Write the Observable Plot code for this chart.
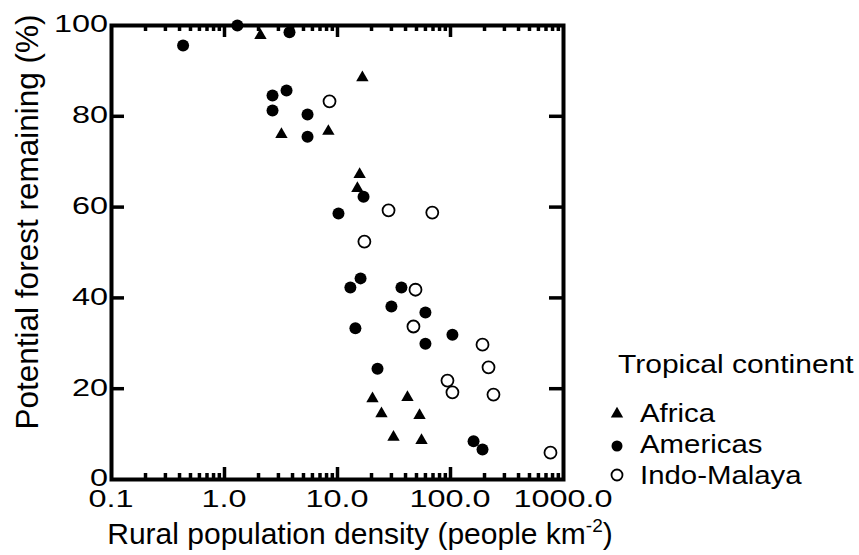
<!DOCTYPE html>
<html><head><meta charset="utf-8">
<script src="https://cdn.jsdelivr.net/npm/d3@7"></script>
<script src="https://cdn.jsdelivr.net/npm/@observablehq/plot@0.6"></script>
<style>
body{margin:0;background:#fff;}
#chart{width:859px;height:555px;}
svg text{font-family:"Liberation Sans",Arial,Helvetica,sans-serif;}
</style></head><body><div id="chart"></div>
<script>
// ---- data ----
const continents = ["Africa", "Americas", "Indo-Malaya"];
const africaDensity   = [2.08, 16.6, 3.19, 8.3, 15.7, 15.0, 20.4, 41.6, 24.5, 53.2, 31.3, 55.4];
const africaForest    = [97.8, 88.5, 76.0, 76.7, 67.2, 64.1, 17.8, 18.1, 14.5, 14.1, 9.3, 8.6];
const americasDensity = [0.43, 1.30, 3.76, 2.66, 3.54, 2.66, 5.43, 5.43, 17.0, 10.2, 16.0, 13.0, 36.8, 30.0, 60, 14.4, 60, 22.6, 104, 160, 192];
const americasForest  = [95.6, 100, 98.5, 84.6, 85.7, 81.3, 80.4, 75.5, 62.3, 58.6, 44.3, 42.3, 42.3, 38.1, 36.8, 33.3, 29.9, 24.4, 31.9, 8.4, 6.6];
const indoDensity     = [8.5, 28.3, 69, 17.3, 49.0, 47, 192, 217, 94, 104, 240, 767];
const indoForest      = [83.3, 59.3, 58.8, 52.4, 41.8, 33.7, 29.7, 24.7, 21.8, 19.2, 18.7, 5.9];
const xTickValues = [0.1, 1, 10, 100, 1000];
const xTickLabels = ["0.1", "1.0", "10.0", "100.0", "1000.0"];
const yTickValues = [0, 20, 40, 60, 80, 100];
const xTitle = "Rural population density (people km";
const xTitleSup = "-2";
const yTitle = "Potential forest remaining (%)";
const legendTitle = "Tropical continent";

// ---- build tables ----
const toRows = (xs, ys, c) => xs.map((x, i) => ({density: x, forest: ys[i], continent: c}));
const africa = toRows(africaDensity, africaForest, continents[0]);
const americas = toRows(americasDensity, americasForest, continents[1]);
const indo = toRows(indoDensity, indoForest, continents[2]);
const majorInner = xTickValues.slice(1, -1);
const minorTicks = [];
for (let k = 0; k < xTickValues.length - 1; k++) for (let m = 2; m <= 9; m++) minorTicks.push(+(xTickValues[k] * m).toPrecision(3));
const yInnerTicks = yTickValues.slice(1, -1);

// ---- layout ----
const W = 859, H = 555, mL = 111, mR = 296, mT = 25, mB = 76;
const innerH = H - mT - mB, innerW = W - mL - mR;

const svg = Plot.plot({
  width: W, height: H,
  marginLeft: mL, marginRight: mR, marginTop: mT, marginBottom: mB,
  style: {background: "white", fontFamily: "Liberation Sans, Arial, sans-serif", overflow: "visible"},
  x: {type: "log", domain: [0.1, 1000], axis: null},
  y: {domain: [0, 100], axis: null},
  marks: [
    Plot.ruleX(majorInner, {x: d => d, insetTop: innerH - 12, strokeWidth: 3.5, stroke: "black"}),
    Plot.ruleX(minorTicks, {x: d => d, insetTop: innerH - 6, strokeWidth: 3.5, stroke: "black"}),
    Plot.ruleX(majorInner, {x: d => d, insetBottom: innerH - 12, strokeWidth: 3.5, stroke: "black"}),
    Plot.ruleX(minorTicks, {x: d => d, insetBottom: innerH - 6, strokeWidth: 3.5, stroke: "black"}),
    Plot.ruleY(yInnerTicks, {y: d => d, insetRight: innerW - 13, strokeWidth: 3.5, stroke: "black"}),
    Plot.ruleY(yInnerTicks, {y: d => d, insetLeft: innerW - 14, strokeWidth: 3.5, stroke: "black"}),
    Plot.frame({stroke: "black", strokeWidth: 4}),
    Plot.dot(indo, {x: "density", y: "forest", r: 6, stroke: "black", strokeWidth: 1.8, fill: "none"}),
    Plot.dot(americas, {x: "density", y: "forest", r: 6, fill: "black", stroke: "none"}),
    Plot.dot(africa, {x: "density", y: "forest", r: 4.6, symbol: "triangle", fill: "black", stroke: "none"})
  ]
});

const s = d3.select(svg);
const xs = svg.scale("x"), ys = svg.scale("y");
const TXT = (sel) => sel.attr("fill", "black").style("font-family", "Liberation Sans, Arial, sans-serif");

// tick labels via the plot's own scales (stretched horizontally like the reference)
xTickValues.forEach((v, i) => {
  TXT(s.append("text")).attr("transform", `translate(${xs.apply(v)},499) scale(1.35,1)`)
    .attr("text-anchor", "middle").attr("dy", "0.35em").attr("font-size", 24).text(xTickLabels[i]);
});
yTickValues.forEach(v => {
  TXT(s.append("text")).attr("transform", `translate(108,${ys.apply(v) - 1}) scale(1.35,1)`)
    .attr("text-anchor", "end").attr("dy", "0.35em").attr("font-size", 24).text(String(v));
});

// x axis title with superscript
const xt = TXT(s.append("text")).attr("x", 360).attr("y", 544).attr("text-anchor", "middle").attr("font-size", 30);
xt.append("tspan").text(xTitle);
xt.append("tspan").attr("font-size", 19).attr("dy", -12).text(xTitleSup);
xt.append("tspan").attr("dy", 12).text(")");
// y axis title
TXT(s.append("text")).attr("transform", "translate(38,222) rotate(-90)").attr("text-anchor", "middle")
  .attr("font-size", 31.5).text(yTitle);

// legend
const lg = s.append("g");
TXT(lg.append("text")).attr("transform", "translate(618,373) scale(1.2,1)").attr("text-anchor", "start")
  .attr("font-size", 25).text(legendTitle);
const symbols = [d3.symbolTriangle, d3.symbolCircle, d3.symbolCircle];
const sizes = [4.6 * 4.6 * Math.PI, 5.5 * 5.5 * Math.PI, 5.5 * 5.5 * Math.PI];
const fills = ["black", "black", "none"];
const symY = [414, 446, 475];
const txtY = [422, 453, 484];
continents.forEach((c, i) => {
  lg.append("path").attr("transform", `translate(617,${symY[i]})`)
    .attr("d", d3.symbol(symbols[i], sizes[i])())
    .attr("fill", fills[i]).attr("stroke", fills[i] === "none" ? "black" : "none").attr("stroke-width", 1.8);
  TXT(lg.append("text")).attr("transform", `translate(640,${txtY[i]}) scale(1.13,1)`).attr("text-anchor", "start")
    .attr("font-size", 26).text(c);
});

document.getElementById("chart").appendChild(svg);
</script>
</body></html>
